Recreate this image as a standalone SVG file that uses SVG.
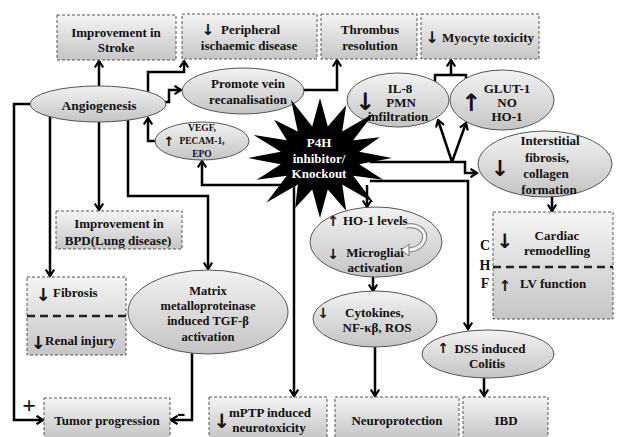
<svg xmlns="http://www.w3.org/2000/svg" width="621" height="437" viewBox="0 0 621 437">
<defs>
<linearGradient id="gBox" x1="0" y1="0" x2="0" y2="1"><stop offset="0" stop-color="#f4f4f4"/><stop offset="1" stop-color="#c6c6c6"/></linearGradient>
<linearGradient id="gEll" x1="0" y1="0" x2="0" y2="1"><stop offset="0" stop-color="#f2f2f2"/><stop offset="1" stop-color="#c4c4c4"/></linearGradient>
<marker id="ah" viewBox="0 0 10 10" refX="8.5" refY="5" markerWidth="10" markerHeight="10" markerUnits="userSpaceOnUse" orient="auto"><path d="M2,0.8 L8.5,5 L2,9.2" fill="none" stroke="#000" stroke-width="2.2"/></marker>
<style>
.box{fill:url(#gBox);stroke:#555;stroke-width:1;stroke-dasharray:3 2}
.ell{fill:url(#gEll);stroke:#555;stroke-width:1}
.t{font-family:"Liberation Serif","Times New Roman",serif;font-weight:bold;font-size:13px;fill:#111;text-anchor:middle}
.s{text-anchor:start}
.ar{font-family:"DejaVu Sans",sans-serif;font-weight:bold;fill:#111;text-anchor:middle}
.c{fill:none;stroke:#000;stroke-width:2.5;marker-end:url(#ah)}
.cn{fill:none;stroke:#000;stroke-width:2.5}
.dv{stroke:#222;stroke-width:2.5;stroke-dasharray:8 5}
.w{fill:#fff}
.sm{font-size:9.5px}
.md{font-size:12.5px}
</style>
</defs>
<rect width="621" height="437" fill="#fff"/>
<g id="connectors">
<path class="c" d="M99,92 V61"/>
<path class="c" d="M148,95 V72 H184 V61"/>
<path class="c" d="M163,102 H169 V90 H181"/>
<path class="c" d="M158,141 H148 V118"/>
<path class="c" d="M40,104 H14 V420 H43"/>
<path class="c" d="M50,112 V276"/>
<path class="c" d="M99,118 V210"/>
<path class="c" d="M128,115 V196 H208 V269"/>
<path class="c" d="M192,345 V420 H171"/>
<path class="c" d="M295,90 H337 V60"/>
<path class="c" d="M295,185 H202 V161"/>
<path class="c" d="M294,185 V396"/>
<path class="c" d="M367,185 V207"/>
<path class="c" d="M370,162 H465 V173 H477"/>
<path class="c" d="M452,162 L438,120"/>
<path class="c" d="M452,162 L466,123"/>
<path class="cn" d="M435,90 V75 H466 V90"/>
<path class="c" d="M451,75 V60"/>
<path class="c" d="M370,181 H468 V329"/>
<path class="c" d="M552,190 V211"/>
<path class="c" d="M373,270 V291"/>
<path class="c" d="M375,340 V396"/>
<path class="c" d="M484,370 V396"/>
</g>
<g id="stroke"><rect class="box" x="57" y="15" width="119" height="45"/><text class="t" x="116" y="36.5">Improvement  in</text><text class="t" x="116" y="51.5">Stroke</text></g>
<g id="peripheral"><rect class="box" x="182" y="14" width="135" height="45"/><text class="ar" x="208" y="34.5" font-size="15">↓</text><text class="t s" x="221" y="33.5">Peripheral</text><text class="t" x="249" y="49.5">ischaemic disease</text></g>
<g id="thrombus"><rect class="box" x="321" y="14" width="96" height="45"/><text class="t" x="370" y="33.5">Thrombus</text><text class="t" x="370" y="49.5">resolution</text></g>
<g id="myocyte"><rect class="box" x="421" y="14" width="118" height="45"/><text class="ar" x="432" y="43" font-size="16">↓</text><text class="t s" x="442" y="41.5">Myocyte toxicity</text></g>
<g id="angiogenesis"><ellipse class="ell" cx="98" cy="104" rx="68" ry="18"/><text class="t" x="99" y="109.5" style="font-size:13.5px">Angiogenesis</text></g>
<g id="promote"><ellipse class="ell" cx="243" cy="91" rx="61" ry="23"/><text class="t" x="248" y="87.5">Promote vein</text><text class="t" x="248" y="103.5">recanalisation</text></g>
<g id="vegf"><ellipse class="ell" cx="202" cy="141" rx="47" ry="19"/><text class="ar" x="169" y="146" font-size="13">↑</text><text class="t sm" x="202" y="130.5">VEGF,</text><text class="t sm" x="202" y="143.5">PECAM-1,</text><text class="t sm" x="202" y="156.5">EPO</text></g>
<g id="il8"><ellipse class="ell" cx="398" cy="100" rx="51" ry="27"/><text class="ar" x="365" y="110" font-size="24">↓</text><text class="t" x="400" y="92.5">IL-8</text><text class="t" x="401" y="106.5">PMN</text><text class="t" x="398" y="121">infiltration</text></g>
<g id="glut"><ellipse class="ell" cx="502" cy="100" rx="52" ry="30"/><text class="ar" x="471" y="111" font-size="24">↑</text><text class="t" x="507" y="93">GLUT-1</text><text class="t" x="507" y="106.5">NO</text><text class="t" x="507" y="121">HO-1</text></g>
<g id="p4h"><polygon fill="#000" points="320,98 327.8,126.6 346.2,105.3 342.2,131.4 373.5,113.5 353.2,140.2 379.9,137.3 359.2,151.8 392,158 359.2,164.2 383.2,179.8 353.2,175.8 373.5,202.5 342.2,184.6 346.2,210.7 327.8,189.4 320,218 312.2,189.4 295.2,207.9 297.8,184.6 266.5,202.5 286.8,175.8 256.8,179.8 280.8,164.2 248,158 280.8,151.8 253.5,135 286.8,140.2 274.2,119.8 297.8,131.4 291,99.8 312.2,126.6"/><text class="t w" x="319" y="147">P4H</text><text class="t w" x="319" y="162.5">inhibitor/</text><text class="t w" x="319" y="178">Knockout</text></g>
<g id="interstitial"><ellipse class="ell" cx="545" cy="164" rx="67" ry="33"/><text class="ar" x="500" y="176" font-size="22">↓</text><text class="t" x="550" y="144.5">Interstitial</text><text class="t" x="547" y="161.5">fibrosis,</text><text class="t" x="546" y="177.5">collagen</text><text class="t" x="549" y="193.5">formation</text></g>
<g id="cardiac"><rect class="box" x="493" y="212" width="120" height="107"/><line class="dv" x1="493" y1="267" x2="613" y2="267"/><text class="ar" x="505" y="248" font-size="20">↓</text><text class="t" x="557" y="239.5">Cardiac</text><text class="t" x="557" y="254.5">remodelling</text><text class="ar" x="505" y="291" font-size="15">↑</text><text class="t s" x="520" y="287.5">LV function</text></g>
<g id="chf"><text class="t" x="485" y="250" style="font-size:14px">C</text><text class="t" x="485" y="270" style="font-size:14px">H</text><text class="t" x="485" y="288" style="font-size:14px">F</text></g>
<g id="bpd"><rect class="box" x="56" y="211" width="126" height="38"/><text class="t" x="119" y="227.5">Improvement  in</text><text class="t" x="118" y="244.5">BPD(Lung disease)</text></g>
<g id="fibrosis"><rect class="box" x="27" y="277" width="99" height="78"/><line class="dv" x1="27" y1="316" x2="126" y2="316"/><text class="ar" x="43" y="301" font-size="18">↓</text><text class="t s" x="53" y="296.5">Fibrosis</text><text class="ar" x="38" y="349" font-size="18">↓</text><text class="t s" x="45" y="344.5">Renal injury</text></g>
<g id="matrix"><ellipse class="ell" cx="208" cy="312" rx="80" ry="42"/><text class="t md" x="208" y="294.5">Matrix</text><text class="t md" x="208" y="309.5">metalloproteinase</text><text class="t md" x="208" y="324.5">induced  TGF-β</text><text class="t md" x="208" y="340.5">activation</text></g>
<g id="ho1"><ellipse class="ell" cx="376" cy="242" rx="66" ry="35"/><text class="ar" x="333" y="226" font-size="14">↑</text><text class="t s" x="343" y="224.5">HO-1 levels</text><text class="ar" x="333" y="259" font-size="14">↓</text><text class="t" x="375" y="256.5">Microglial</text><text class="t" x="375" y="271.5">activation</text><path d="M406,226 C421,224 429,234 422,244 C418,249 413,250 408,250" fill="none" stroke="#777" stroke-width="5"/><path d="M406,226 C421,224 429,234 422,244 C418,249 413,250 408,250" fill="none" stroke="#f4f4f4" stroke-width="3"/><polygon points="401,250 409,244 409,256" fill="#f4f4f4" stroke="#777" stroke-width="1"/></g>
<g id="cytokines"><ellipse class="ell" cx="375" cy="319" rx="62" ry="28"/><text class="ar" x="323" y="318" font-size="14">↓</text><text class="t s" x="345" y="316.5">Cytokines,</text><text class="t" x="377" y="331.5">NF-κβ, ROS</text></g>
<g id="dss"><ellipse class="ell" cx="488" cy="354" rx="66" ry="24"/><text class="ar" x="443" y="353" font-size="14">↑</text><text class="t" x="490" y="352.5">DSS induced</text><text class="t" x="487" y="367.5">Colitis</text></g>
<g id="tumor"><rect class="box" x="44" y="398" width="126" height="40"/><text class="t" x="107" y="424.5">Tumor  progression</text></g>
<g id="signs"><text class="t" x="29" y="413" style="font-size:24px">+</text><text class="t" x="181" y="421" style="font-size:26px">-</text></g>
<g id="mptp"><rect class="box" x="209" y="397" width="118" height="41"/><text class="ar" x="222" y="428" font-size="20">↓</text><text class="t" x="270" y="416.5">mPTP induced</text><text class="t" x="269" y="431.5">neurotoxicity</text></g>
<g id="neuro"><rect class="box" x="335" y="397" width="124" height="41"/><text class="t" x="397" y="424.5">Neuroprotection</text></g>
<g id="ibd"><rect class="box" x="463" y="397" width="85" height="41"/><text class="t" x="506" y="424.5">IBD</text></g>
</svg>
